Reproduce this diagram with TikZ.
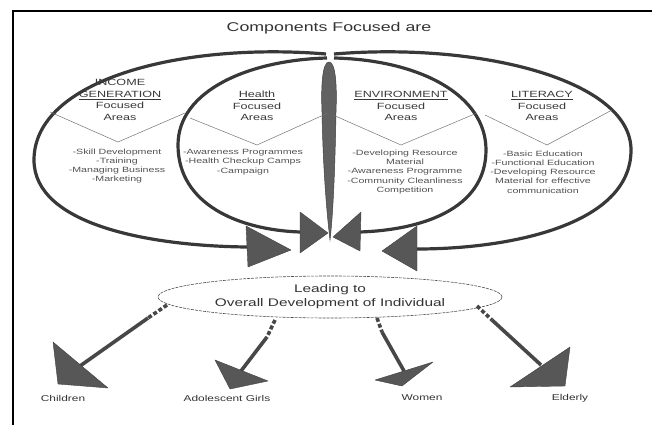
\documentclass[tikz,border=0pt]{standalone}
\usepackage{fontspec}
\setmainfont{Liberation Sans}[FakeStretch=1.4]
\usetikzlibrary{shapes.geometric}

\begin{document}
\begin{tikzpicture}[x=1pt,y=-1pt,
  loopline/.style={draw=black!78, line width=3.2pt},
  bighead/.style={fill=black!66, draw=black!75, line width=.4pt, line join=round},
  shaft/.style={draw=black!72, line width=3.6pt},
  dashshaft/.style={shaft, dash pattern=on 4pt off 2.2pt},
  vline/.style={draw=black!55, line width=.5pt},
  heading/.style={align=center, inner sep=0pt, text=black!78, font=\fontsize{9}{11.6}\selectfont},
  items/.style={align=center, inner sep=0pt, text=black!68, font=\fontsize{7.6}{9.2}\selectfont},
  group/.style={inner sep=0pt, text=black!80, font=\fontsize{8.5}{10}\selectfont}]
\useasboundingbox (0,0) rectangle (652,425);
\draw [line width=2pt] (13,425) -- (13,11) -- (652,11);

\node [inner sep=0pt, text=black!80, font=\fontsize{12.7}{14}\selectfont] (title) at (329,28) {Components Focused are};

% the four loops
\draw [loopline] (326,54) .. controls (180,42) and (34,80) .. (34,160)
  .. controls (34,225) and (150,246) .. (247,247);
\draw [loopline] (327,58) .. controls (250,60) and (178,90) .. (178,145)
  .. controls (178,205) and (240,230) .. (300,232);
\draw [loopline] (334,58) .. controls (420,60) and (486,95) .. (486,150)
  .. controls (486,210) and (420,230) .. (360,232);
\draw [loopline] (334,54) .. controls (480,42) and (631,80) .. (631,150)
  .. controls (631,225) and (510,249) .. (417,249);

\draw [bighead] (246,226) -- (291,250) -- (248,267) -- cycle;
\draw [bighead] (300,212) -- (328,233) -- (300,253) -- cycle;
\draw [bighead] (361,212) -- (333,237) -- (360,251) -- cycle;
\draw [bighead] (417,226) -- (382,251) -- (417,271) -- cycle;

\draw [fill=black!62, draw=black!75, line width=.5pt] (329,62)
  .. controls (336,62) and (337,88) .. (336,112)
  .. controls (335,170) and (333,215) .. (330,240)
  .. controls (327,215) and (323,170) .. (322,112)
  .. controls (321,88) and (322,62) .. (329,62);

\draw [vline] (50,112) -- (118,142) -- (185,113);
\draw [vline] (190,118) -- (257,145) -- (328,113);
\draw [vline] (333,115) -- (401,145) -- (477,113);
\draw [vline] (485,115) -- (547,145) -- (612,110);

\node [heading] (inc) at (120,100) {INCOME\\\underline{GENERATION}\\Focused\\Areas};
\node [heading] (hlth) at (257,106) {\underline{Health}\\Focused\\Areas};
\node [heading] (env) at (401,106) {\underline{ENVIRONMENT}\\Focused\\Areas};
\node [heading] (lit) at (542,106) {\underline{LITERACY}\\Focused\\Areas};

\node [items] (incitems) at (117,166) {-Skill Development\\-Training\\-Managing Business\\-Marketing};
\node [items] (hlthitems) at (243,162) {-Awareness Programmes\\-Health Checkup Camps\\-Campaign};
\node [items] (envitems) at (405,172) {-Developing Resource\\Material\\-Awareness Programme\\-Community Cleanliness\\Competition};
\node [items] (lititems) at (543,172) {-Basic Education\\-Functional Education\\-Developing Resource\\Material for effective\\communication};

\node [ellipse, draw=black!70, line width=.6pt, dash pattern=on 3pt off 1pt,
  minimum width=344pt, minimum height=42pt, inner sep=0pt, align=center,
  text=black!80, font=\fontsize{11}{14}\selectfont] (lead) at (330,297)
  {Leading to\\Overall Development of Individual};

% groups reached
\node [group] (children) at (63,398) {Children};
\node [group] (girls) at (227,398) {Adolescent Girls};
\node [group] (women) at (422,398) {Women};
\node [group] (elderly) at (570,398) {Elderly};

\coordinate (ch-s) at (167,305); \coordinate (ch-d) at (148,318); \coordinate (ch-m) at (80,366);
\coordinate (gi-s) at (275,320); \coordinate (gi-d) at (267,337); \coordinate (gi-m) at (241,371);
\coordinate (wo-s) at (377,318); \coordinate (wo-d) at (382,332); \coordinate (wo-m) at (404,371);
\coordinate (el-s) at (477,306); \coordinate (el-d) at (492,320); \coordinate (el-m) at (541,365);

\draw [dashshaft] (ch-s) -- (ch-d);
\draw [shaft] (ch-d) -- (ch-m);
\draw [bighead] (53,342) -- (108,388) -- (58,384) -- cycle;

\draw [dashshaft] (gi-s) -- (gi-d);
\draw [shaft] (gi-d) -- (gi-m);
\draw [bighead] (215,360) -- (268,381) -- (230,389) -- cycle;

\draw [dashshaft] (wo-s) -- (wo-d);
\draw [shaft] (wo-d) -- (wo-m);
\draw [bighead] (375,380) -- (433,362) -- (402,386) -- cycle;

\draw [dashshaft] (el-s) -- (el-d);
\draw [shaft] (el-d) -- (el-m);
\draw [bighead] (570,347) -- (510,387) -- (565,386) -- cycle;
\end{tikzpicture}
\end{document}
